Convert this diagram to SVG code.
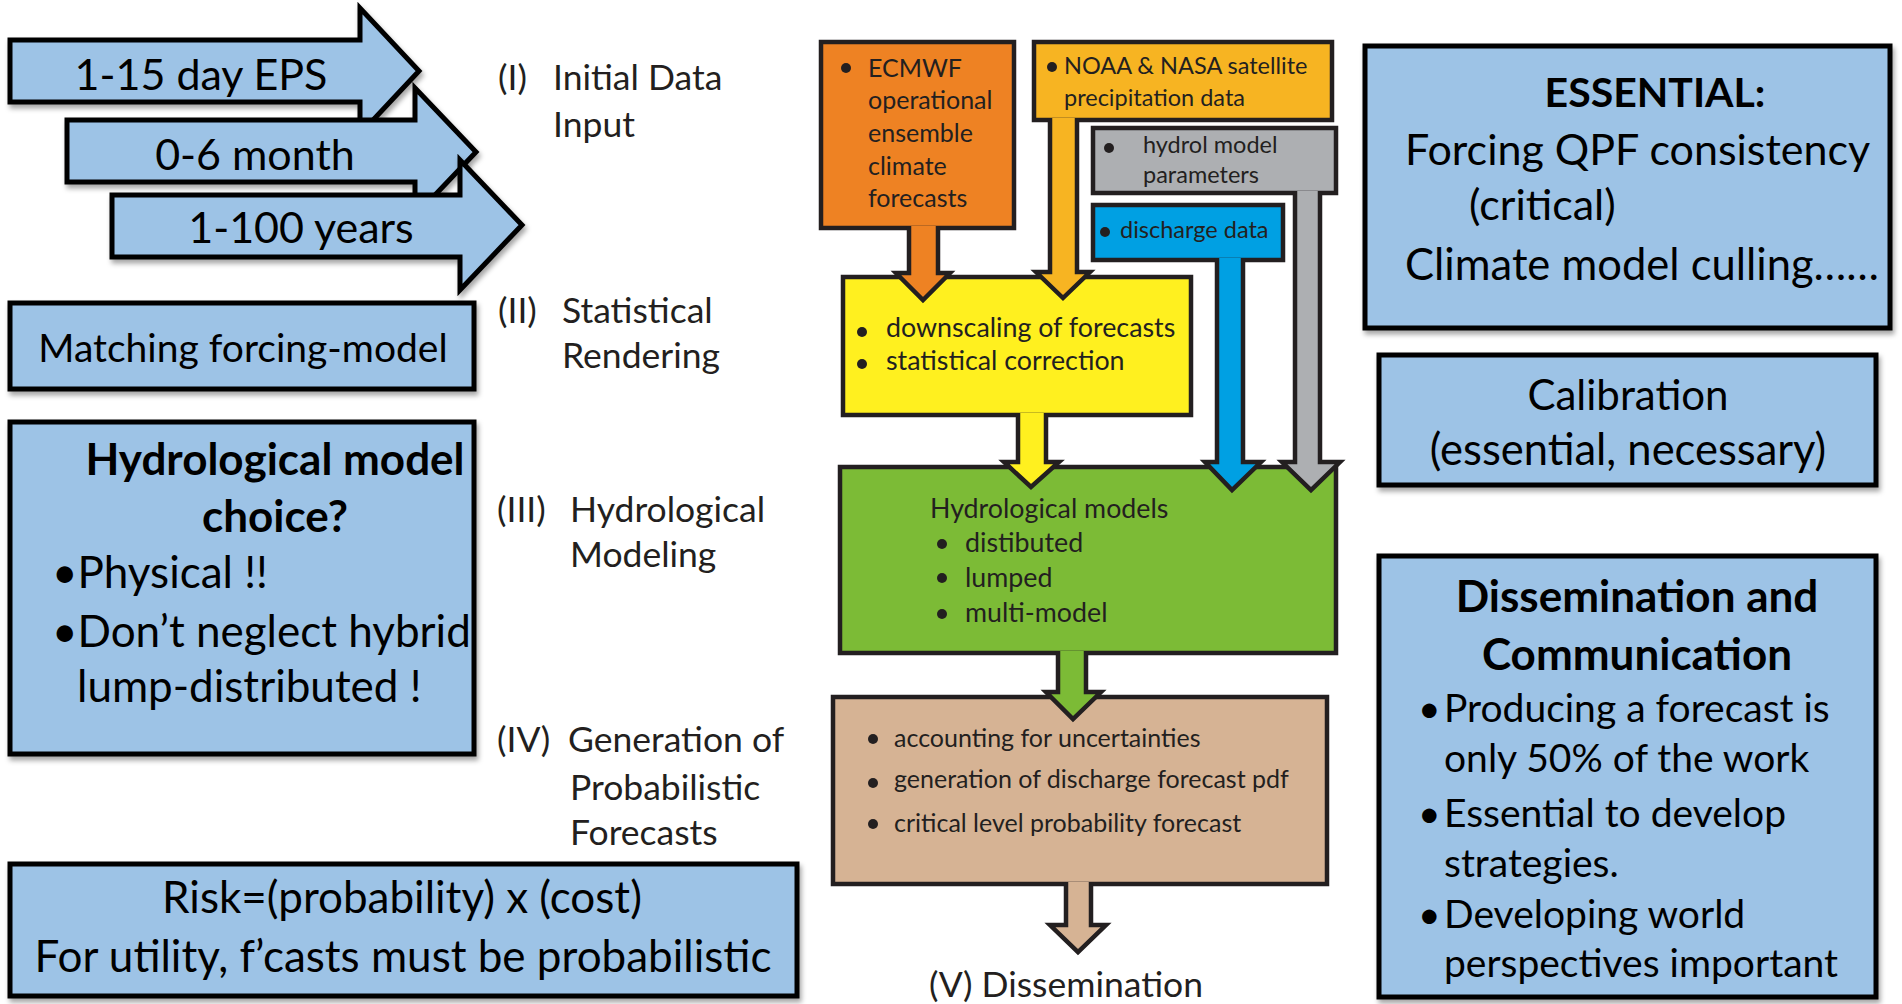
<svg xmlns="http://www.w3.org/2000/svg" width="1902" height="1004" viewBox="0 0 1902 1004">
<defs>
<filter id="sh" x="-10%" y="-10%" width="125%" height="130%"><feDropShadow dx="2" dy="4" stdDeviation="2.5" flood-color="#000" flood-opacity="0.35"/></filter>
</defs>
<style>
.bl{fill:#9dc3e6;stroke:#000;stroke-width:5;stroke-linejoin:miter}
.t{font-family:Lato,"Open Sans","Liberation Sans",sans-serif;fill:#000}
.b{font-weight:bold}
.big{font-size:43px}
.s39{font-size:39px}
.s44{font-size:44px}
.lab{font-size:35.5px;fill:#231f20}
.fb{stroke:#231f20;stroke-width:4.5}
.ft{font-size:25px;fill:#231f20}
.fs{font-size:23.5px;fill:#231f20}
.fl{font-size:26.8px;fill:#231f20}
.dot{fill:#231f20}
.cn{stroke:#231f20;stroke-width:4.5;stroke-linejoin:miter}
.m{text-anchor:middle}
</style>
<rect width="1902" height="1004" fill="#fff"/>
<line x1="871" y1="0" x2="1626" y2="0" stroke="#444" stroke-width="4" filter="url(#sh)"/>

<g id="eps">
<polygon class="bl" filter="url(#sh)" points="10,40 360,40 360,8 419,71 360,134 360,102 10,102"/>
<text class="t big m" x="201" y="90">1-15 day EPS</text>
</g>
<g id="month">
<polygon class="bl" filter="url(#sh)" points="67,120 415,120 415,88 476,152 415,216 415,182 67,182"/>
<text class="t big m" x="255" y="170">0-6 month</text>
</g>
<g id="years">
<polygon class="bl" filter="url(#sh)" points="112,195 460,195 460,160 522,225 460,290 460,257 112,257"/>
<text class="t big m" x="301" y="243">1-100 years</text>
</g>

<g id="matching">
<rect class="bl" filter="url(#sh)" x="10" y="303" width="464" height="86"/>
<text class="t s39 m" x="243" y="362">Matching forcing-model</text>
</g>
<g id="hydro-choice">
<rect class="bl" filter="url(#sh)" x="10" y="422" width="464" height="332"/>
<text class="t s44 b m" x="275" y="475">Hydrological model</text>
<text class="t s44 b m" x="275" y="532">choice?</text>
<text class="t s44" x="52" y="588">•Physical !!</text>
<text class="t s44" x="52" y="647">•Don’t neglect hybrid</text>
<text class="t s44" x="77" y="702">lump-distributed !</text>
</g>
<g id="risk">
<rect class="bl" filter="url(#sh)" x="10" y="864" width="787" height="132"/>
<text class="t s44 m" x="402" y="913">Risk=(probability) x (cost)</text>
<text class="t s44 m" x="403" y="972">For utility, f’casts must be probabilistic</text>
</g>

<g id="essential">
<rect class="bl" filter="url(#sh)" x="1365" y="46" width="525" height="282"/>
<text class="t b m" style="font-size:41px" x="1655" y="107">ESSENTIAL:</text>
<text class="t" style="font-size:43px" x="1405" y="165">Forcing QPF consistency</text>
<text class="t" style="font-size:43px" x="1469" y="220">(critical)</text>
<text class="t" style="font-size:43.5px" x="1405" y="280">Climate model culling……</text>
</g>
<g id="calibration">
<rect class="bl" filter="url(#sh)" x="1379" y="355" width="497" height="130"/>
<text class="t m" style="font-size:42px" x="1628" y="410">Calibration</text>
<text class="t m" style="font-size:43.5px" x="1628" y="465">(essential, necessary)</text>
</g>
<g id="dissemination-box">
<rect class="bl" filter="url(#sh)" x="1379" y="556" width="497" height="441"/>
<text class="t s44 b m" x="1637" y="612">Dissemination and</text>
<text class="t s44 b m" x="1637" y="670">Communication</text>
<text class="t s39" x="1418" y="722">•</text><text class="t s39" x="1444" y="722">Producing a forecast is</text>
<text class="t s39" x="1444" y="772">only 50% of the work</text>
<text class="t s39" x="1418" y="827">•</text><text class="t s39" x="1444" y="827">Essential to develop</text>
<text class="t s39" x="1444" y="877">strategies.</text>
<text class="t s39" x="1418" y="928">•</text><text class="t s39" x="1444" y="928">Developing world</text>
<text class="t s39" x="1444" y="977">perspectives important</text>
</g>

<g id="stage-labels">
<text class="t lab" x="498" y="90">(I)</text><text class="t lab" x="553" y="90">Initial Data</text>
<text class="t lab" x="553" y="137">Input</text>
<text class="t lab" x="498" y="323">(II)</text><text class="t lab" x="562" y="323">Statistical</text>
<text class="t lab" x="562" y="368">Rendering</text>
<text class="t lab" x="497" y="522">(III)</text><text class="t lab" x="570" y="522">Hydrological</text>
<text class="t lab" x="570" y="567">Modeling</text>
<text class="t lab" x="497" y="752">(IV)</text><text class="t lab" x="568" y="752">Generation of</text>
<text class="t lab" x="570" y="800">Probabilistic</text>
<text class="t lab" x="570" y="845">Forecasts</text>
<text class="t lab" x="929" y="997">(V) Dissemination</text>
</g>

<g id="ecmwf">
<rect class="fb" x="821" y="42" width="193" height="186" fill="#ee8223"/>
<circle class="dot" cx="846" cy="68" r="5"/>
<text class="t ft" x="868" y="77">ECMWF</text>
<text class="t ft" x="868" y="109">operational</text>
<text class="t ft" x="868" y="142">ensemble</text>
<text class="t ft" x="868" y="175">climate</text>
<text class="t ft" x="868" y="207">forecasts</text>
</g>
<g id="noaa">
<rect class="fb" x="1034" y="42" width="298" height="78" fill="#f7b422"/>
<circle class="dot" cx="1052" cy="67" r="5"/>
<text class="t fs" x="1064" y="74">NOAA &amp; NASA satellite</text>
<text class="t fs" x="1064" y="106">precipitation data</text>
</g>
<g id="params">
<rect class="fb" x="1093" y="128" width="243" height="65" fill="#adafb2"/>
<circle class="dot" cx="1109" cy="148" r="5"/>
<text class="t fs" x="1143" y="153">hydrol model</text>
<text class="t fs" x="1143" y="183">parameters</text>
</g>
<g id="discharge">
<rect class="fb" x="1093" y="205" width="190" height="55" fill="#00a0e3"/>
<circle class="dot" cx="1105" cy="232" r="5"/>
<text class="t fs" x="1120" y="238">discharge data</text>
</g>
<g id="statistical">
<rect class="fb" x="843" y="277" width="348" height="138" fill="#fff01f"/>
<circle class="dot" cx="862" cy="332" r="5"/>
<text class="t fl" x="886" y="337">downscaling of forecasts</text>
<circle class="dot" cx="862" cy="364" r="5"/>
<text class="t fl" x="886" y="370">statistical correction</text>
</g>
<g id="models">
<rect class="fb" x="840" y="467" width="496" height="186" fill="#7cbb36"/>
<text class="t fl" x="930" y="518">Hydrological models</text>
<circle class="dot" cx="942" cy="544" r="5"/><text class="t fl" x="965" y="552">distibuted</text>
<circle class="dot" cx="942" cy="578" r="5"/><text class="t fl" x="965" y="587">lumped</text>
<circle class="dot" cx="942" cy="614" r="5"/><text class="t fl" x="965" y="622">multi-model</text>
</g>
<g id="probabilistic">
<rect class="fb" x="833" y="697" width="494" height="187" fill="#d6b394"/>
<circle class="dot" cx="873" cy="739" r="5"/><text class="t ft" x="894" y="747">accounting for uncertainties</text>
<circle class="dot" cx="873" cy="783" r="5"/><text class="t ft" x="894" y="788">generation of discharge forecast pdf</text>
<circle class="dot" cx="873" cy="824" r="5"/><text class="t ft" x="894" y="832">critical level probability forecast</text>
</g>

<g id="connectors">
<path class="cn" fill="#ee8223" d="M909,226 V273 H896 L923,300 L950,273 H938 V226"/>
<path class="cn" fill="#f7b422" d="M1050,118 V272 H1036 L1063,298 L1090,272 H1077 V118"/>
<path class="cn" fill="#adafb2" d="M1295,191 V462 H1282 L1311,490 L1340,462 H1320 V191"/>
<path class="cn" fill="#00a0e3" d="M1217,258 V462 H1205 L1232,490 L1261,462 H1243 V258"/>
<path class="cn" fill="#fff01f" d="M1018,413 V462 H1004 L1031,487 L1059,462 H1046 V413"/>
<path class="cn" fill="#7cbb36" d="M1058,651 V692 H1046 L1073,719 L1101,692 H1086 V651"/>
<path class="cn" fill="#d6b394" d="M1066,882 V925 H1050 L1078,952 L1106,925 H1091 V882"/>
</g>
</svg>
